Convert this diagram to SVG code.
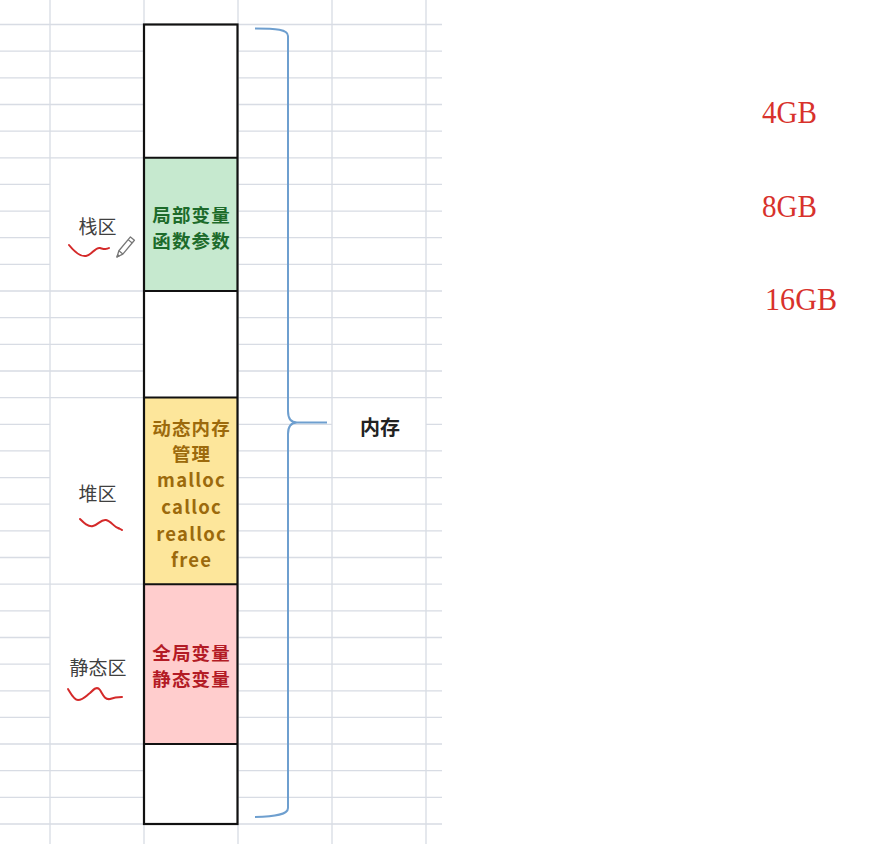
<svg xmlns="http://www.w3.org/2000/svg" width="869" height="844" viewBox="0 0 869 844">
<style>
.grid{stroke:#d8dce4;stroke-width:1.3;fill:none}
.seg{stroke:#111;stroke-width:2}
.box{font-family:"Noto Sans CJK SC","Liberation Sans",sans-serif;font-weight:bold;font-size:18.5px;letter-spacing:1.2px;text-anchor:middle}
.lbl{font-family:"Noto Sans CJK SC","Liberation Sans",sans-serif;font-size:19px;fill:#404040;text-anchor:middle}
.gb{font-family:"Liberation Serif","Noto Serif",serif;font-size:31px;fill:#d8322c}
.sq{stroke:#d42a2a;stroke-width:2;fill:none;stroke-linecap:round;stroke-linejoin:round}
</style>
<rect x="0" y="0" width="869" height="844" fill="#ffffff"/>
<g id="grid">
<path class="grid" d="M50 0V844M144 0V844M238 0V844M332 0V844M426 0V844
M0 24.5H442M0 51.2H442M0 77.8H442M0 104.5H442M0 131.1H442M0 157.8H442
M0 184.4H50M238 184.4H442M0 211.1H50M238 211.1H442M0 237.7H50M238 237.7H442M0 264.4H50M238 264.4H442
M0 291H442M0 317.7H442M0 344.3H442M0 371H442M0 397.6H442
M0 424.3H50M238 424.3H332M426 424.3H442
M0 450.9H50M238 450.9H442M0 477.6H50M238 477.6H442M0 504.2H50M238 504.2H442M0 530.9H50M238 530.9H442M0 557.5H50M238 557.5H442
M0 584.2H442
M0 610.8H50M238 610.8H442M0 637.5H50M238 637.5H442M0 664.1H50M238 664.1H442M0 690.8H50M238 690.8H442M0 717.4H50M238 717.4H442
M0 744H442M0 770.7H442M0 797.4H442M0 824H442"/>
</g>
<g id="memory">
<rect x="144" y="24.5" width="93.5" height="799.5" fill="#ffffff"/>
<rect id="stack-fill" x="144" y="157.8" width="93.5" height="133.2" fill="#c6e9cf"/>
<rect id="heap-fill" x="144" y="397.6" width="93.5" height="186.6" fill="#fde69b"/>
<rect id="static-fill" x="144" y="584.2" width="93.5" height="159.8" fill="#ffcdcd"/>
<path class="seg" stroke-width="1.5" d="M144 157.8H237.5M144 291H237.5M144 397.6H237.5M144 584.2H237.5M144 744H237.5"/>
<rect x="144" y="24.5" width="93.5" height="799.5" fill="none" stroke="#111" stroke-width="2.2"/>
</g>
<g id="stack" class="box" fill="#1d6b2b">
<text x="191.6" y="222">局部变量</text>
<text x="191.6" y="248">函数参数</text>
</g>
<g id="heap" class="box" fill="#9c6a0c">
<text x="191.6" y="435">动态内存</text>
<text x="191.6" y="461">管理</text>
<text x="191.6" y="487">malloc</text>
<text x="191.6" y="514">calloc</text>
<text x="191.6" y="541">realloc</text>
<text x="191.6" y="567">free</text>
</g>
<g id="static" class="box" fill="#b31b25">
<text x="191.6" y="660">全局变量</text>
<text x="191.6" y="686">静态变量</text>
</g>
<g id="label-stack">
<text class="lbl" x="97.5" y="234">栈区</text>
<path class="sq" d="M69 245C73 250 79 257 86 256C92 255 95 247 100 248C104 249 106 250 109 248"/>
<g transform="translate(117,257) rotate(-50)" fill="none" stroke="#777" stroke-width="1.3" stroke-linejoin="round">
<path d="M0 0L6 -2.6H24V2.6H6Z"/>
<path d="M6 -2.6V2.6M20.5 -2.6V2.6M0 0L2.2 -0.9V0.9Z"/>
</g>
</g>
<g id="label-heap">
<text class="lbl" x="97.5" y="501">堆区</text>
<path class="sq" d="M80 519C84 523 88 527 93 526C98 525 101 519 106 520C111 521 114 527 118 528C120 529 121 529 122 530"/>
</g>
<g id="label-static">
<text class="lbl" x="98" y="675">静态区</text>
<path class="sq" d="M68 689C71 694 74 700 78 700C83 700 85 697 90 693C94 689 97 686 100 690C103 695 105 700 110 699C115 697 118 697 122 697"/>
</g>
<g id="brace">
<path d="M255 28.5C276 28.5 288 29.5 288 36V411C288 418 290 422.5 297 422.5H327M297 422.5C290 422.5 288 427 288 434V808C288 814.5 276 816.5 255 817" fill="none" stroke="#6e9fcf" stroke-width="2"/>
</g>
<g id="label-memory">
<text x="380" y="435" font-family="'Noto Sans CJK SC','Liberation Sans',sans-serif" font-weight="bold" font-size="20" fill="#222" text-anchor="middle">内存</text>
</g>
<g id="sizes">
<text class="gb" x="762" y="123" textLength="55" lengthAdjust="spacingAndGlyphs">4GB</text>
<text class="gb" x="762" y="217" textLength="55" lengthAdjust="spacingAndGlyphs">8GB</text>
<text class="gb" x="765" y="310" textLength="72" lengthAdjust="spacingAndGlyphs">16GB</text>
</g>
</svg>
